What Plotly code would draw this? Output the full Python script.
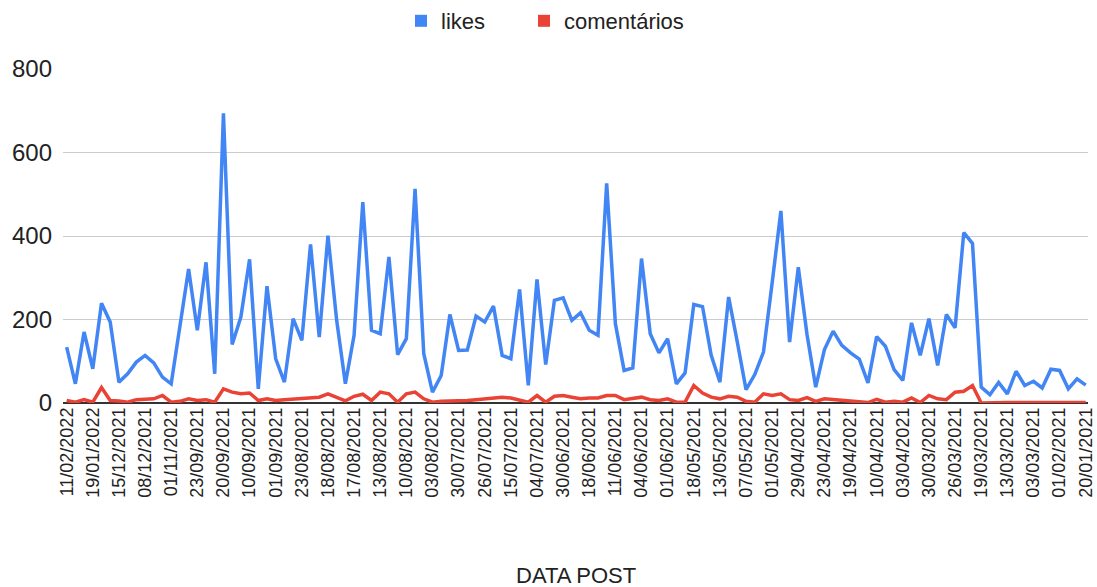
import plotly.graph_objects as go

# Post date labels (shown on every third post, newest first)
date_labels = [
    "11/02/2022", "19/01/2022", "15/12/2021", "08/12/2021", "01/11/2021",
    "23/09/2021", "20/09/2021", "10/09/2021", "01/09/2021", "23/08/2021",
    "18/08/2021", "17/08/2021", "13/08/2021", "10/08/2021", "03/08/2021",
    "30/07/2021", "26/07/2021", "15/07/2021", "04/07/2021", "30/06/2021",
    "18/06/2021", "11/06/2021", "04/06/2021", "01/06/2021", "18/05/2021",
    "13/05/2021", "07/05/2021", "01/05/2021", "29/04/2021", "23/04/2021",
    "19/04/2021", "10/04/2021", "03/04/2021", "30/03/2021", "26/03/2021",
    "19/03/2021", "13/03/2021", "03/03/2021", "01/02/2021", "20/01/2021",
]
label_step = 3

likes = [
    134, 46, 170, 82, 239, 194, 50, 70, 98, 114, 96, 62, 46, 178, 321, 174,
    337, 70, 694, 140, 206, 344, 34,
    280, 106, 50, 202, 150, 380, 158, 401, 198, 46, 162, 481, 174, 166, 350,
    116, 154, 513, 118, 26, 66, 212, 126, 127,
    208, 194, 232, 114, 106, 272, 42, 296, 92, 246, 252, 198, 216, 174, 162,
    526, 190, 78, 84, 346, 166, 120, 154,
    46, 72, 236, 231, 114, 50, 254, 146, 32, 68, 122, 288, 460, 146, 325, 164,
    38, 128, 172, 138, 120, 105, 48,
    159, 136, 80, 54, 192, 114, 202, 90, 212, 180, 408, 382, 38, 20, 49, 22,
    76, 42, 52, 36, 81, 78, 34, 58, 43,
]

comentarios = [
    6, 2, 8, 2, 37, 6, 5, 2, 8, 10, 10, 18, 2, 4, 10, 6, 8, 2, 34, 26, 22, 24, 6,
    10, 6, 8, 10, 12, 13, 14, 22, 13, 5, 16, 21, 6, 26, 22, 2, 22, 26, 10, 2,
    4, 4, 6,
    6, 8, 10, 12, 14, 12, 6, 2, 18, 2, 16, 18, 14, 10, 12, 12, 18, 18, 8, 10,
    14, 8, 6, 10,
    2, 2, 42, 24, 14, 10, 16, 14, 4, 2,
    22, 18, 22, 8, 6, 13, 4, 10, 8, 6,
    5, 2, 1, 9, 2, 4, 2, 12, 1, 18,
    10, 8, 26, 28, 42,
    0, 1, 1, 1, 1, 1, 1, 1, 1, 2, 1, 1, 1,
]

BLUE = "#4285F4"
RED = "#EA4335"
TEXT = "#222222"
FONT = "Liberation Sans, Arial, sans-serif"

x = list(range(len(likes)))
tick_positions = list(range(0, len(likes), label_step))

fig = go.Figure()
fig.add_trace(go.Scatter(x=x, y=likes, mode="lines", name="likes",
                         line=dict(color=BLUE, width=3.5), showlegend=False))
fig.add_trace(go.Scatter(x=x, y=comentarios, mode="lines", name="comentários",
                         line=dict(color=RED, width=3.5), showlegend=False))

# square legend keys, one legend box per series
for name, color, legend_id in (("likes", BLUE, "legend"),
                               ("comentários", RED, "legend2")):
    fig.add_trace(go.Scatter(x=[None], y=[None], mode="markers", name=name,
                             legend=legend_id,
                             marker=dict(symbol="square", size=12, color=color)))

legend_common = dict(orientation="h", xref="paper", xanchor="left",
                     y=1 - 21 / 587, yref="container", yanchor="middle",
                     font=dict(size=22, color=TEXT), bgcolor="rgba(0,0,0,0)")

fig.update_layout(
    width=1097, height=587,
    margin=dict(l=63, r=9, t=69, b=184),
    paper_bgcolor="white", plot_bgcolor="white",
    font=dict(family=FONT, size=22, color=TEXT),
    showlegend=True,
    legend=dict(x=(401 - 63) / 1025, **legend_common),
    legend2=dict(x=(524 - 63) / 1025, **legend_common),
    xaxis=dict(
        range=[-0.42, len(likes) - 1 + 0.26],
        tickmode="array", tickvals=tick_positions, ticktext=date_labels,
        tickangle=-90, showgrid=False, zeroline=False, ticks="",
        tickfont=dict(size=18, color=TEXT),
        showline=False, automargin=False,
    ),
    yaxis=dict(
        range=[0, 800], tickvals=[0, 200, 400, 600, 800],
        showgrid=True, gridcolor="#cccccc", gridwidth=1.2,
        zeroline=True, zerolinecolor="#333333", zerolinewidth=2,
        ticks="", tickfont=dict(size=24, color=TEXT),
        ticklabelstandoff=10, automargin=False,
    ),
    annotations=[dict(text="DATA POST", x=0.5, y=(403 - 575) / 334,
                      xref="paper", yref="paper", showarrow=False,
                      xanchor="center", yanchor="middle",
                      font=dict(size=22, color=TEXT))],
)

fig.write_html("out.html")
